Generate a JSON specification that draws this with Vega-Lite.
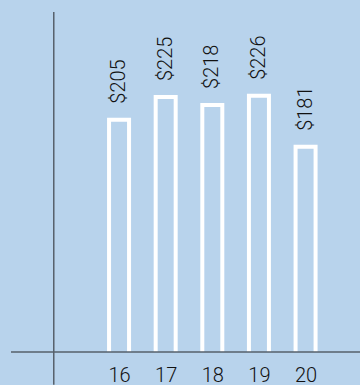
{
  "$schema": "https://vega.github.io/schema/vega-lite/v6.json",
  "width": 349,
  "height": 340,
  "autosize": {"type": "none"},
  "padding": {"left": 11, "top": 12, "right": 0, "bottom": 33},
  "background": "#b8d3ec",
  "config": {
    "view": {"stroke": null},
    "font": "Roboto",
    "text": {"font": "Roboto"}
  },
  "datasets": {
    "sales": [
      {"year": 16, "value": 205, "label": "$205"},
      {"year": 17, "value": 225, "label": "$225"},
      {"year": 18, "value": 218, "label": "$218"},
      {"year": 19, "value": 226, "label": "$226"},
      {"year": 20, "value": 181, "label": "$181"}
    ],
    "axisLines": [
      {"x": 14.6, "yTop": 300, "yBottom": -29}
    ]
  },
  "layer": [
    {
      "data": {"name": "sales"},
      "mark": {"type": "bar", "width": 20, "fill": null, "fillOpacity": 0, "stroke": "white", "strokeWidth": 4, "clip": true},
      "encoding": {
        "x": {
          "field": "year",
          "type": "quantitative",
          "scale": {"domain": [13.79, 21.06], "nice": false, "zero": false},
          "axis": {
            "values": [16, 17, 18, 19, 20],
            "domain": false,
            "ticks": false,
            "grid": false,
            "title": null,
            "labelFont": "Roboto",
            "labelFontWeight": 300,
            "labelFontSize": 20,
            "labelColor": "#111111",
            "labelPadding": 13
          }
        },
        "y": {
          "field": "value",
          "type": "quantitative",
          "scale": {"domain": [0, 300], "nice": false},
          "axis": null
        },
        "y2": {"datum": -10}
      }
    },
    {
      "data": {"name": "sales"},
      "mark": {"type": "text", "angle": 270, "align": "left", "baseline": "middle", "dx": 16, "font": "Roboto", "fontWeight": 300, "fontSize": 20, "color": "#111111"},
      "encoding": {
        "x": {"field": "year", "type": "quantitative"},
        "y": {"field": "value", "type": "quantitative"},
        "text": {"field": "label"}
      }
    },
    {
      "data": {"name": "axisLines"},
      "mark": {"type": "rule", "color": "#56606b", "strokeWidth": 1.5},
      "encoding": {
        "x": {"field": "x", "type": "quantitative"},
        "y": {"field": "yTop", "type": "quantitative"},
        "y2": {"field": "yBottom"}
      }
    },
    {
      "data": {"values": [{"base": 0}]},
      "mark": {"type": "rule", "color": "#56606b", "strokeWidth": 1.5},
      "encoding": {
        "y": {"field": "base", "type": "quantitative"}
      }
    }
  ]
}
